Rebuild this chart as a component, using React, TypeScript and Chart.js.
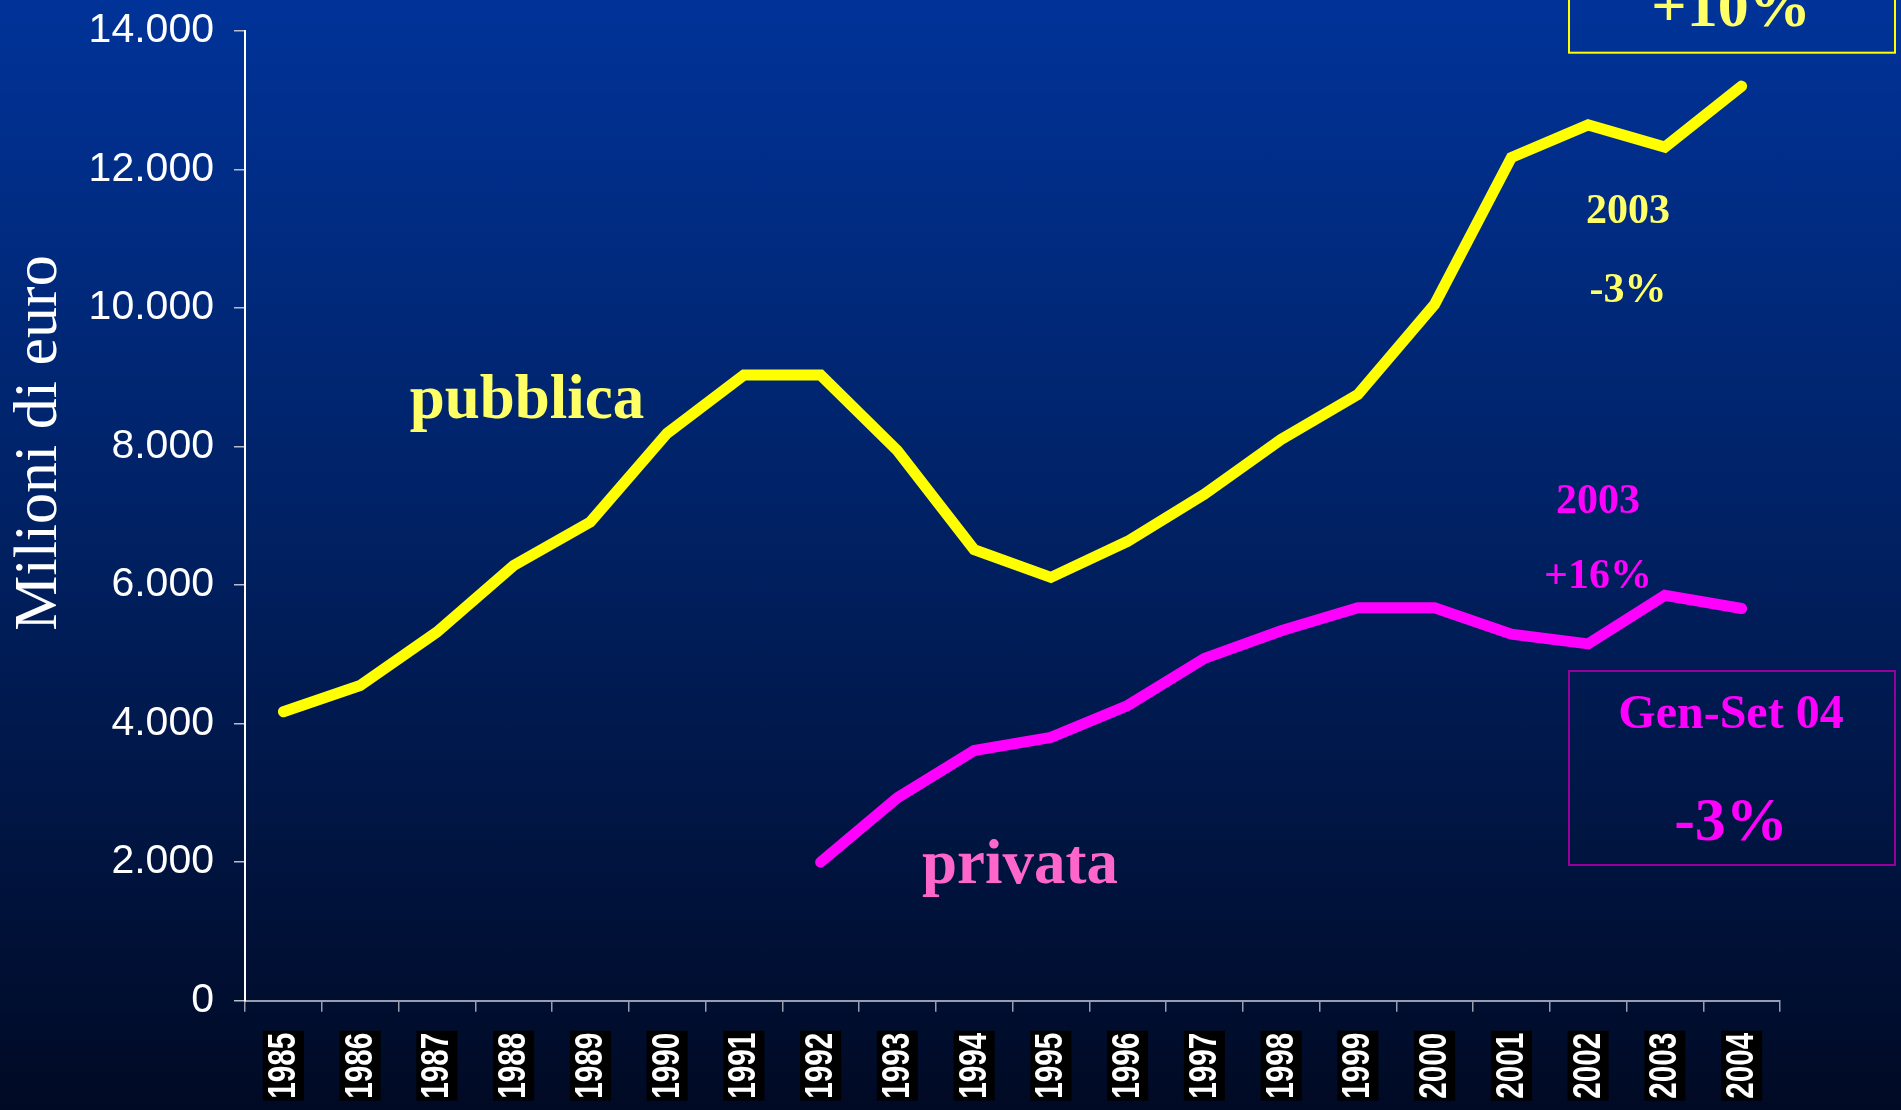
import React, { useEffect, useRef } from 'react';
import { Chart, registerables } from 'chart.js';

Chart.register(...registerables);

const years = ['1985', '1986', '1987', '1988', '1989', '1990', '1991', '1992', '1993', '1994', '1995', '1996', '1997', '1998', '1999', '2000', '2001', '2002', '2003', '2004'];
const pubblica = [4170, 4550, 5320, 6280, 6910, 8190, 9030, 9030, 7940, 6510, 6110, 6630, 7310, 8100, 8750, 10050, 12170, 12640, 12320, 13200];
const privata = [null, null, null, null, null, null, null, 2000, 2930, 3610, 3800, 4260, 4940, 5340, 5670, 5670, 5290, 5150, 5850, 5660];
const yMin = 0;
const yMax = 14000;
const yStep = 2000;
const yTitle = 'Milioni di euro';

const fmt = (v: number) => String(v).replace(/\B(?=(\d{3})+(?!\d))/g, '.');

const xLabelsPlugin = {
  id: 'xLabels',
  afterDraw(chart: any) {
    const ctx = chart.ctx;
    const xs = chart.scales.x;
    const labels = chart.data.labels as string[];
    const top = xs.top + 31;
    ctx.save();
    ctx.font = 'bold 38px "Liberation Sans", Arial, sans-serif';
    const sx = 0.78;
    labels.forEach((lab, i) => {
      const x = xs.getPixelForTick(i);
      const len = ctx.measureText(lab).width * sx;
      ctx.fillStyle = '#000000';
      ctx.fillRect(x - 20.5, top - 1, 41, len + 4);
      ctx.save();
      ctx.translate(x + 1, top + 1);
      ctx.rotate(-Math.PI / 2);
      ctx.scale(sx, 1);
      ctx.fillStyle = '#ffffff';
      ctx.textAlign = 'right';
      ctx.textBaseline = 'middle';
      ctx.fillText(lab, 0, 0);
      ctx.restore();
    });
    ctx.restore();
  },
};

const annotationsPlugin = {
  id: 'annots',
  afterDraw(chart: any) {
    const ctx = chart.ctx;
    ctx.save();
    // y axis title
    ctx.save();
    ctx.translate(40, 443);
    ctx.rotate(-Math.PI / 2);
    ctx.font = '62px "Liberation Serif", "Times New Roman", serif';
    ctx.fillStyle = '#ffffff';
    ctx.textAlign = 'center';
    ctx.textBaseline = 'middle';
    ctx.fillText(yTitle, 0, 0);
    ctx.restore();

    const serif = '"Liberation Serif", "Times New Roman", serif';
    const txt = (s: string, x: number, y: number, size: number, color: string) => {
      ctx.font = `bold ${size}px ${serif}`;
      ctx.fillStyle = color;
      ctx.textAlign = 'center';
      ctx.textBaseline = 'alphabetic';
      ctx.fillText(s, x, y);
    };
    txt('pubblica', 527, 418, 63, '#FFFF66');
    txt('privata', 1020, 883, 63, '#FF66CC');
    txt('2003', 1628, 223, 42, '#FFFF66');
    txt('-3%', 1628, 302, 42, '#FFFF66');
    txt('2003', 1598, 513, 42, '#FF00FF');
    txt('+16%', 1598, 588, 42, '#FF00FF');

    ctx.lineWidth = 2;
    ctx.strokeStyle = '#FFFF00';
    ctx.strokeRect(1569, -20, 326, 72.7);
    txt('+10%', 1731, 26, 62, '#FFFF66');

    ctx.strokeStyle = '#990099';
    ctx.strokeRect(1569, 671, 326, 194);
    txt('Gen-Set 04', 1731, 728, 48, '#FF00FF');
    txt('-3%', 1731, 840, 62, '#FF00FF');
    ctx.restore();
  },
};

export default function App() {
  const ref = useRef<HTMLCanvasElement | null>(null);
  useEffect(() => {
    document.body.style.margin = '0';
    const canvas = ref.current;
    if (!canvas) return;
    const chart = new Chart(canvas, {
      type: 'line',
      data: {
        labels: years,
        datasets: [
          {
            label: 'pubblica',
            data: pubblica,
            borderColor: '#FFFF00',
            borderWidth: 11,
            borderCapStyle: 'round',
            borderJoinStyle: 'miter',
            pointRadius: 0,
            tension: 0,
            fill: false,
          },
          {
            label: 'privata',
            data: privata,
            borderColor: '#FF00FF',
            borderWidth: 11,
            borderCapStyle: 'round',
            borderJoinStyle: 'miter',
            pointRadius: 0,
            tension: 0,
            fill: false,
          },
        ],
      },
      options: {
        responsive: false,
        animation: false,
        devicePixelRatio: 1,
        layout: { padding: { left: 0, top: 30.7, right: 121, bottom: 0 } },
        plugins: { legend: { display: false }, tooltip: { enabled: false }, title: { display: false } },
        scales: {
          x: {
            type: 'category',
            offset: true,
            grid: {
              offset: true,
              drawOnChartArea: false,
              drawTicks: true,
              tickLength: 11,
              color: '#9a9cb0',
              lineWidth: 1.5,
            },
            border: { display: true, color: '#9a9cb0', width: 2 },
            ticks: { display: false },
            afterFit(scale: any) {
              scale.height = 1110 - 1000.7;
              scale.paddingLeft = 0;
              scale.paddingRight = 0;
            },
          },
          y: {
            min: yMin,
            max: yMax,
            grid: {
              drawOnChartArea: false,
              drawTicks: true,
              tickLength: 11,
              color: '#b8bccc',
              lineWidth: 1.5,
            },
            border: { display: true, color: '#ffffff', width: 2 },
            ticks: {
              stepSize: yStep,
              padding: 20,
              color: '#ffffff',
              font: { family: '"Liberation Sans", Arial, sans-serif', size: 41 },
              callback: (v: any) => fmt(Number(v)),
            },
            afterFit(scale: any) {
              scale.width = 245;
              scale.paddingTop = 0;
              scale.paddingBottom = 0;
            },
          },
        },
      },
      plugins: [xLabelsPlugin, annotationsPlugin],
    } as any);
    return () => chart.destroy();
  }, []);

  return (
    <div
      style={{
        position: 'fixed',
        left: 0,
        top: 0,
        width: 1901,
        height: 1110,
        overflow: 'hidden',
        background: 'linear-gradient(to bottom, #003399 0%, #002266 45%, #000a24 100%)',
      }}
    >
      <canvas ref={ref} width={1901} height={1110} style={{ display: 'block' }} />
    </div>
  );
}
